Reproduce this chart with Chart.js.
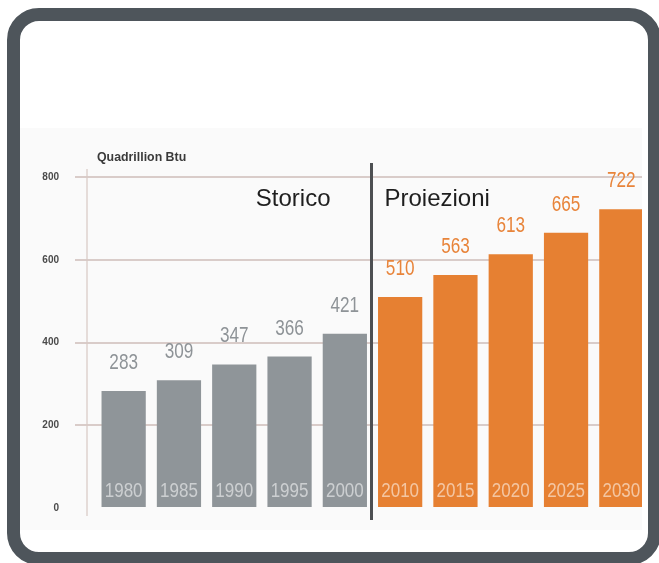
<!DOCTYPE html>
<html>
<head>
<meta charset="utf-8">
<script src="https://cdn.jsdelivr.net/npm/chart.js@4.4.0/dist/chart.umd.min.js"></script>
<style>
  html, body { margin: 0; padding: 0; background: #ffffff; overflow: hidden; }
  body { width: 659px; height: 563px; position: relative; }
  .frame {
    position: absolute; left: 7px; top: 8px; width: 654px; height: 557px;
    box-sizing: border-box; border: 13px solid #4e555b; border-radius: 32px;
    background: #ffffff;
  }
  .plot {
    position: absolute; left: 20px; top: 128px; width: 622px; height: 402px;
    overflow: hidden; background: #fafafa;
  }
  .plot canvas { position: absolute; left: 0; top: 0; }
</style>
</head>
<body>
<div class="frame"></div>
<div class="plot"><canvas id="energyChart" width="640" height="402"></canvas></div>
<script>
/****************** data ******************/
const years = ['1980', '1985', '1990', '1995', '2000', '2010', '2015', '2020', '2025', '2030'];
const consumption = [283, 309, 347, 366, 421, 510, 563, 613, 665, 722];
const historicCount = 5; // first five years are "Storico"
const sectionLabels = ['Storico', 'Proiezioni'];
const yTicks = [0, 200, 400, 600, 800];
const unitLabel = 'Quadrillion Btu';

const grey = 'rgb(143, 149, 153)';
const orange = 'rgb(230, 128, 50)';
const barColors = years.map((y, i) => i < historicCount ? grey : orange);
const labelColors = years.map((y, i) => i < historicCount ? '#8e9397' : '#e8843a');

// narrow text: squeeze horizontally round the centre point
function condensedText(ctx, text, x, y, sx) {
  ctx.save();
  ctx.translate(x, y);
  ctx.scale(sx, 1);
  ctx.fillText(text, 0, 0);
  ctx.restore();
}

/****************** overlay texts ******************/
const overlay = {
  id: 'overlay',
  afterDatasetsDraw(chart) {
    const ctx = chart.ctx;
    const area = chart.chartArea;
    const bars = chart.getDatasetMeta(0).data;

    ctx.save();
    // faint y axis line
    ctx.strokeStyle = 'rgba(215, 200, 196, 0.8)';
    ctx.lineWidth = 1.5;
    ctx.beginPath();
    ctx.moveTo(area.left - 9, area.top - 8);
    ctx.lineTo(area.left - 9, area.bottom + 8);
    ctx.stroke();

    // unit title
    ctx.fillStyle = '#3a3a3a';
    ctx.font = 'bold 13px "Liberation Sans", Arial, sans-serif';
    ctx.textAlign = 'left';
    ctx.textBaseline = 'middle';
    condensedText(ctx, unitLabel, area.left + 1, area.top - 20, 0.95);

    // value labels and years inside the bars
    bars.forEach((bar, i) => {
      ctx.textAlign = 'center';
      ctx.textBaseline = 'alphabetic';
      ctx.font = '22px "Liberation Sans", Arial, sans-serif';
      ctx.fillStyle = labelColors[i];
      condensedText(ctx, consumption[i], bar.x, bar.y - 22, 0.78);

      ctx.font = '20px "Liberation Sans", Arial, sans-serif';
      ctx.fillStyle = 'rgba(255, 255, 255, 0.55)';
      ctx.textBaseline = 'middle';
      condensedText(ctx, years[i], bar.x, bar.base - 16, 0.85);
    });

    // divider between history and projections
    const divX = (bars[historicCount - 1].x + bars[historicCount].x) / 2 - 1;
    ctx.strokeStyle = '#4d4f52';
    ctx.lineWidth = 3;
    ctx.beginPath();
    ctx.moveTo(divX, area.top - 14);
    ctx.lineTo(divX, area.bottom + 12);
    ctx.stroke();

    ctx.fillStyle = '#1e1e1e';
    ctx.font = '24px "Liberation Sans", Arial, sans-serif';
    ctx.textBaseline = 'alphabetic';
    ctx.textAlign = 'right';
    ctx.fillText(sectionLabels[0], divX - 41, area.top + 29);
    ctx.textAlign = 'left';
    ctx.fillText(sectionLabels[1], divX + 13, area.top + 29);
    ctx.restore();
  }
};

/****************** chart ******************/
const ctx = document.getElementById('energyChart').getContext('2d');
const energyChart = new Chart(ctx, {
  type: 'bar',
  data: {
    labels: years,
    datasets: [{
      data: consumption,
      backgroundColor: barColors,
      borderWidth: 0,
      barPercentage: 1,
      categoryPercentage: 0.8
    }]
  },
  options: {
    responsive: false,
    animation: false,
    devicePixelRatio: 1,
    layout: { padding: { top: 49, bottom: 20, left: 0, right: 11 } },
    plugins: { legend: { display: false }, tooltip: { enabled: false } },
    scales: {
      x: {
        display: false
      },
      y: {
        min: 0,
        max: 800,
        afterFit: scale => { scale.width = 76; },
        afterBuildTicks: scale => { scale.ticks = yTicks.map(v => ({ value: v })); },
        border: { display: false },
        grid: {
          color: c => c.tick.value === 0 ? 'rgba(0,0,0,0)' : 'rgba(205, 188, 184, 0.75)',
          lineWidth: 2,
          tickLength: 21
        },
        ticks: {
          padding: 16,
          color: '#4a4a4a',
          font: { family: '"Liberation Sans", Arial, sans-serif', size: 10, weight: 'bold' }
        }
      }
    }
  },
  plugins: [overlay]
});
</script>
</body>
</html>
